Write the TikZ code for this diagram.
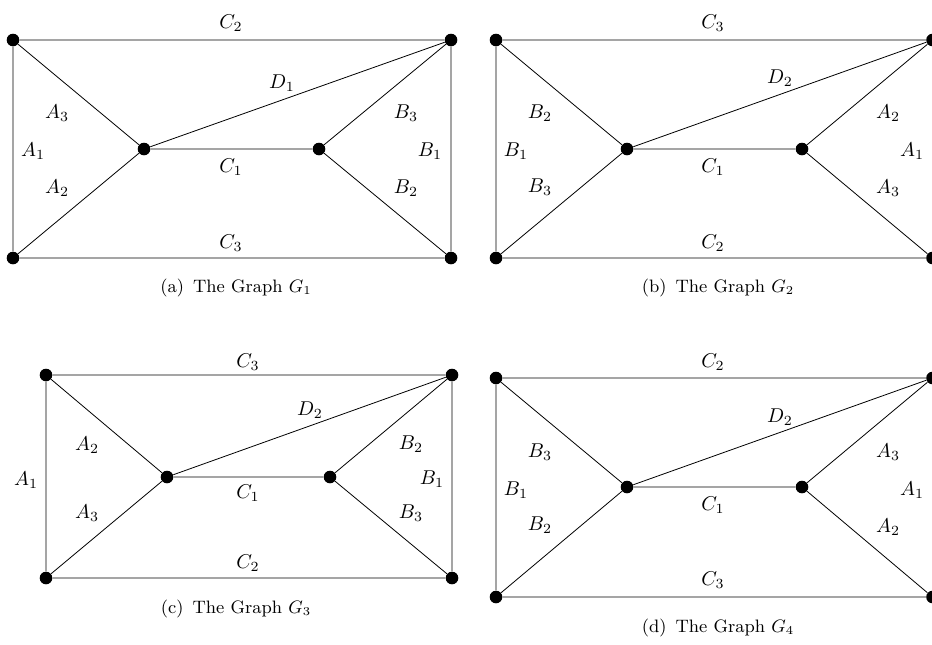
\documentclass[tikz,border=0pt]{standalone}
\begin{document}
\begin{tikzpicture}[x=0.5pt,y=-0.5pt,
  dot/.style={circle,fill=black,inner sep=0pt,minimum size=6.3pt},
  lab/.style={inner sep=0pt},
  captext/.style={inner sep=0pt,font=\small}]
\useasboundingbox (0,0) rectangle (932,644);
% ---------- (a) ----------
\node[dot] (a1) at (13,40) {};
\node[dot] (a2) at (451,40) {};
\node[dot] (a3) at (13,258) {};
\node[dot] (a4) at (451,258) {};
\node[dot] (a5) at (144,149) {};
\node[dot] (a6) at (319,149) {};
\draw (a1)--(a2) (a1)--(a3) (a2)--(a4) (a3)--(a4) (a1)--(a5) (a3)--(a5)
      (a5)--(a6) (a5)--(a2) (a6)--(a2) (a6)--(a4);
\node[lab] (la1) at (231,23) {$C_2$};
\node[lab] (la2) at (282,83) {$D_1$};
\node[lab] (la3) at (57,113) {$A_3$};
\node[lab] (la4) at (33,151) {$A_1$};
\node[lab] (la5) at (57,188) {$A_2$};
\node[lab] (la6) at (231,167) {$C_1$};
\node[lab] (la7) at (406,113) {$B_3$};
\node[lab] (la8) at (430,151) {$B_1$};
\node[lab] (la9) at (406,188) {$B_2$};
\node[lab] (la10) at (231,243) {$C_3$};
\node[captext] (ca) at (236,288) {(a)\hspace{0.5em}The Graph $G_1$};
% ---------- (b) ----------
\node[dot] (b1) at (496,40) {};
\node[dot] (b2) at (932.5,40) {};
\node[dot] (b3) at (496,258) {};
\node[dot] (b4) at (932.5,258) {};
\node[dot] (b5) at (627,149) {};
\node[dot] (b6) at (802,149) {};
\draw (b1)--(b2) (b1)--(b3) (b2)--(b4) (b3)--(b4) (b1)--(b5) (b3)--(b5)
      (b5)--(b6) (b5)--(b2) (b6)--(b2) (b6)--(b4);
\node[lab] (lb1) at (713,23) {$C_3$};
\node[lab] (lb2) at (780,78) {$D_2$};
\node[lab] (lb3) at (540,113) {$B_2$};
\node[lab] (lb4) at (516,151) {$B_1$};
\node[lab] (lb5) at (540,187) {$B_3$};
\node[lab] (lb6) at (713,167) {$C_1$};
\node[lab] (lb7) at (888,113) {$A_2$};
\node[lab] (lb8) at (912,151) {$A_1$};
\node[lab] (lb9) at (888,188) {$A_3$};
\node[lab] (lb10) at (713,243) {$C_2$};
\node[captext] (cb) at (718,288) {(b)\hspace{0.5em}The Graph $G_2$};
% ---------- (c) ----------
\node[dot] (c1) at (46,375) {};
\node[dot] (c2) at (452,375) {};
\node[dot] (c3) at (46,578) {};
\node[dot] (c4) at (452,578) {};
\node[dot] (c5) at (167,477) {};
\node[dot] (c6) at (330,477) {};
\draw (c1)--(c2) (c1)--(c3) (c2)--(c4) (c3)--(c4) (c1)--(c5) (c3)--(c5)
      (c5)--(c6) (c5)--(c2) (c6)--(c2) (c6)--(c4);
\node[lab] (lc1) at (248,362) {$C_3$};
\node[lab] (lc2) at (310,410) {$D_2$};
\node[lab] (lc3) at (87,445) {$A_2$};
\node[lab] (lc4) at (26,480) {$A_1$};
\node[lab] (lc5) at (87,513) {$A_3$};
\node[lab] (lc6) at (248,493) {$C_1$};
\node[lab] (lc7) at (411,444) {$B_2$};
\node[lab] (lc8) at (432,479) {$B_1$};
\node[lab] (lc9) at (411,513) {$B_3$};
\node[lab] (lc10) at (248,563) {$C_2$};
\node[captext] (cc) at (236,609) {(c)\hspace{0.5em}The Graph $G_3$};
% ---------- (d) ----------
\node[dot] (d1) at (496,378) {};
\node[dot] (d2) at (932.5,378) {};
\node[dot] (d3) at (496,597) {};
\node[dot] (d4) at (932.5,597) {};
\node[dot] (d5) at (627,487) {};
\node[dot] (d6) at (802,487) {};
\draw (d1)--(d2) (d1)--(d3) (d2)--(d4) (d3)--(d4) (d1)--(d5) (d3)--(d5)
      (d5)--(d6) (d5)--(d2) (d6)--(d2) (d6)--(d4);
\node[lab] (ld1) at (713,362) {$C_2$};
\node[lab] (ld2) at (780,417) {$D_2$};
\node[lab] (ld3) at (540,452) {$B_3$};
\node[lab] (ld4) at (516,490) {$B_1$};
\node[lab] (ld5) at (540,525) {$B_2$};
\node[lab] (ld6) at (713,505) {$C_1$};
\node[lab] (ld7) at (888,452) {$A_3$};
\node[lab] (ld8) at (912,490) {$A_1$};
\node[lab] (ld9) at (888,527) {$A_2$};
\node[lab] (ld10) at (713,580) {$C_3$};
\node[captext] (cd) at (718,628) {(d)\hspace{0.5em}The Graph $G_4$};
\end{tikzpicture}
\end{document}
